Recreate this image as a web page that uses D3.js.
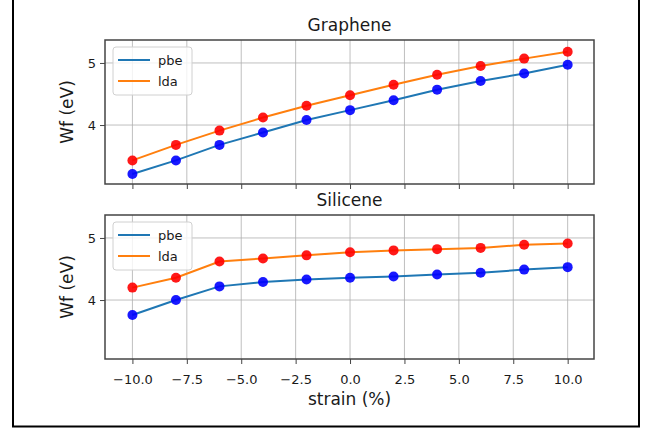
<!DOCTYPE html>
<html>
<head>
<meta charset="utf-8">
<style>

body {
  margin: 0;
  background-color: #ffffff;
}

text {
  font-family: "DejaVu Sans", sans-serif;
  fill: #1a1a1a;
}

.tick-label {
  font-size: 13px;
}

.title {
  font-size: 17px;
}

.axis-label {
  font-size: 17px;
}

.legend-text {
  font-size: 13px;
}

.grid line {
  stroke: #b0b0b0;
  stroke-width: 1px;
  opacity: 0.8;
}

</style>
<script src="https://d3js.org/d3.v7.min.js"></script>
</head>
<body>
<script>

var strain = [-10, -8, -6, -4, -2, 0, 2, 4, 6, 8, 10];

var graphenePbe = [3.21, 3.43, 3.68, 3.88, 4.08, 4.24, 4.40, 4.57, 4.71, 4.83, 4.97];
var grapheneLda = [3.43, 3.68, 3.91, 4.12, 4.31, 4.48, 4.65, 4.81, 4.95, 5.07, 5.18];

var silicenePbe = [3.76, 4.00, 4.22, 4.29, 4.33, 4.36, 4.38, 4.41, 4.44, 4.49, 4.53];
var siliceneLda = [4.20, 4.36, 4.62, 4.67, 4.72, 4.77, 4.80, 4.82, 4.84, 4.89, 4.91];

var titles = ["Graphene", "Silicene"];
var seriesNames = ["pbe", "lda"];
var lineColors = ["#1f77b4", "#ff7f0e"];
var dotColors = ["#0000ff", "#ff0000"];

var xTicks = [-10, -7.5, -5, -2.5, 0, 2.5, 5, 7.5, 10];
var yTicks = [4, 5];

var panels = [
  { title: titles[0], series: [graphenePbe, grapheneLda] },
  { title: titles[1], series: [silicenePbe, siliceneLda] }
];

var width = 652,
    height = 428;

var left = 105,
    right = 594,
    plotH = 144,
    tops = [40, 215];

var svg = d3.select("body")
  .append("svg")
  .attr("width", width)
  .attr("height", height);

// outer frame (top edge is cut off in the picture)
svg.append("rect")
  .attr("x", 13)
  .attr("y", -5)
  .attr("width", 626)
  .attr("height", 431.5)
  .attr("fill", "none")
  .attr("stroke", "#000")
  .attr("stroke-width", 2);

var x = d3.scaleLinear()
  .domain([-11.26, 11.21])
  .range([left, right]);

var y = d3.scaleLinear()
  .domain([3.05, 5.37])
  .range([plotH, 0]);

var fmtX = d3.format(".1f");

panels.forEach(function(p, pi) {

  var g = svg.append("g")
    .attr("transform", "translate(0," + tops[pi] + ")");

  // grid
  var grid = g.append("g").attr("class", "grid");
  grid.selectAll(".gx")
    .data(xTicks)
    .enter().append("line")
    .attr("x1", function(d) { return x(d); })
    .attr("x2", function(d) { return x(d); })
    .attr("y1", 0)
    .attr("y2", plotH);
  grid.selectAll(".gy")
    .data(yTicks)
    .enter().append("line")
    .attr("x1", left)
    .attr("x2", right)
    .attr("y1", function(d) { return y(d); })
    .attr("y2", function(d) { return y(d); });

  // lines
  var line = d3.line()
    .x(function(d, i) { return x(strain[i]); })
    .y(function(d) { return y(d); });

  p.series.forEach(function(s, si) {
    g.append("path")
      .datum(s)
      .attr("d", line)
      .attr("fill", "none")
      .attr("stroke", lineColors[si])
      .attr("stroke-width", 2);
  });

  p.series.forEach(function(s, si) {
    g.selectAll(".dot" + si)
      .data(s)
      .enter().append("circle")
      .attr("cx", function(d, i) { return x(strain[i]); })
      .attr("cy", function(d) { return y(d); })
      .attr("r", 5)
      .attr("fill", dotColors[si])
      .attr("opacity", 0.9);
  });

  // axes
  var xAxis = d3.axisBottom(x)
    .tickValues(xTicks)
    .tickSize(5)
    .tickPadding(11)
    .tickFormat(pi == 1 ? fmtX : "");

  var ax = g.append("g")
    .attr("transform", "translate(0," + plotH + ")")
    .call(xAxis);
  ax.select(".domain").remove();
  ax.selectAll("line").attr("stroke", "#444");
  ax.selectAll("text").attr("class", "tick-label").attr("fill", "#1a1a1a");

  var yAxis = d3.axisLeft(y)
    .tickValues(yTicks)
    .tickSize(5)
    .tickPadding(4)
    .tickFormat(d3.format("d"));

  var ay = g.append("g")
    .attr("transform", "translate(" + left + ",0)")
    .call(yAxis);
  ay.select(".domain").remove();
  ay.selectAll("line").attr("stroke", "#444");
  ay.selectAll("text").attr("class", "tick-label").attr("fill", "#1a1a1a");

  g.append("rect")
    .attr("x", left)
    .attr("y", 0)
    .attr("width", right - left)
    .attr("height", plotH)
    .attr("fill", "none")
    .attr("stroke", "#444")
    .attr("stroke-width", 1.5);

  // title
  g.append("text")
    .attr("class", "title")
    .attr("text-anchor", "middle")
    .attr("x", (left + right) / 2)
    .attr("y", -9)
    .text(p.title);

  // y label
  g.append("text")
    .attr("class", "axis-label")
    .attr("text-anchor", "middle")
    .attr("transform", "translate(73," + plotH / 2 + ") rotate(-90)")
    .text("Wf (eV)");

  // legend
  var lg = g.append("g")
    .attr("transform", "translate(" + (left + 8) + ",7)");
  lg.append("rect")
    .attr("width", 79)
    .attr("height", 48)
    .attr("rx", 3)
    .attr("fill", "#fff")
    .attr("fill-opacity", 0.8)
    .attr("stroke", "#d0d0d0");
  seriesNames.forEach(function(n, si) {
    lg.append("line")
      .attr("x1", 5)
      .attr("x2", 37)
      .attr("y1", 13 + si * 21)
      .attr("y2", 13 + si * 21)
      .attr("stroke", lineColors[si])
      .attr("stroke-width", 2);
    lg.append("text")
      .attr("class", "legend-text")
      .attr("x", 45)
      .attr("y", 13 + si * 21)
      .attr("dy", "0.35em")
      .text(n);
  });
});

svg.append("text")
  .attr("class", "axis-label")
  .attr("text-anchor", "middle")
  .attr("x", (left + right) / 2)
  .attr("y", 405)
  .text("strain (%)");

</script>
</body>
</html>
